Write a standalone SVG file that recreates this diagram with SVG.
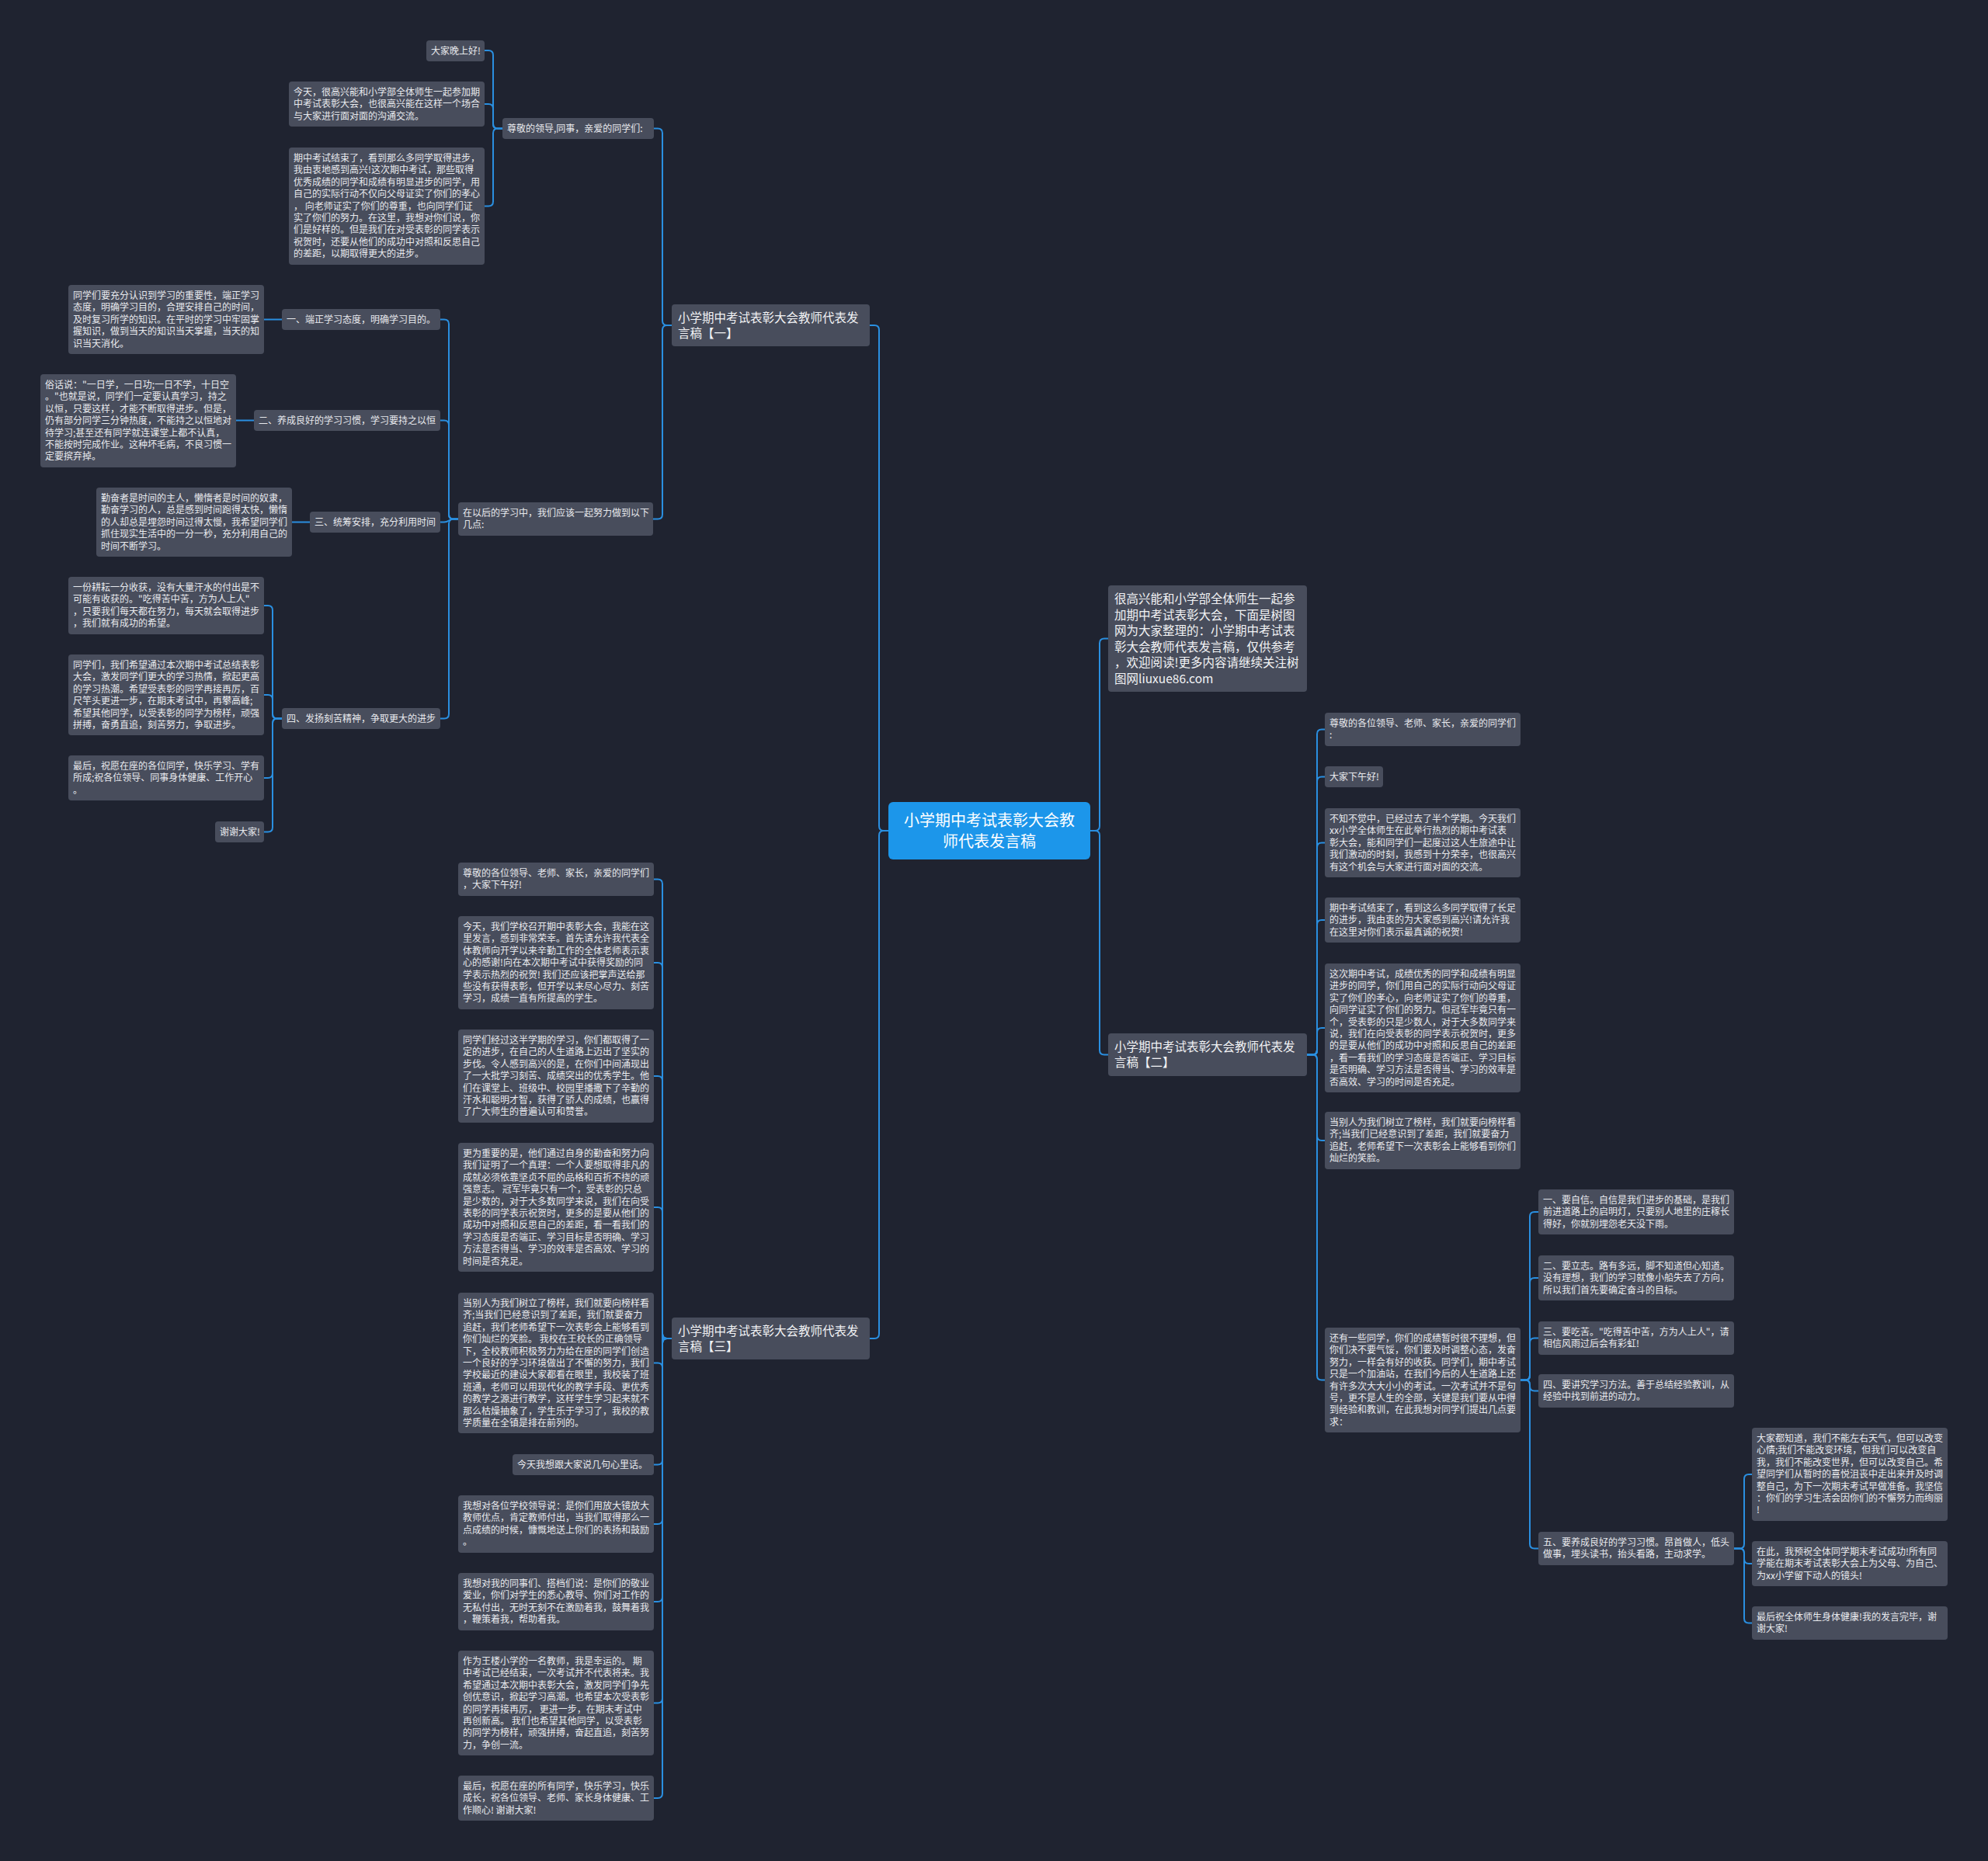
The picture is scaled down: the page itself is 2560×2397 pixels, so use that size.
<svg xmlns="http://www.w3.org/2000/svg" width="2560" height="2397" viewBox="0 0 2560 2397">
<style>
.bg{fill:#1f2330}
.b{fill:#484d5c;rx:4px;ry:4px}
.cb{fill:#1c96ea;rx:6px;ry:6px}
text{font-family:"Noto Sans CJK SC","Noto Sans",sans-serif}
.s{font-size:12px;fill:#e8eaee}
.m{font-size:15.5px;fill:#f2f3f5}
.c{font-size:20px;fill:#ffffff;text-anchor:middle}
#connectors path{fill:none;stroke:#2a8fe0;stroke-width:2}
</style>
<rect class="bg" x="0" y="0" width="2560" height="2397"/>
<g id="connectors">
<path d="M1144,1070 H1138 Q1132,1070 1132,1064 V425 Q1132,419 1126,419 H1120"/>
<path d="M1144,1070 H1138 Q1132,1070 1132,1076 V1718 Q1132,1724 1126,1724 H1120"/>
<path d="M1404,1070 H1410 Q1416,1070 1416,1064 V828.5 Q1416,822.5 1422,822.5 H1427"/>
<path d="M1404,1070 H1410 Q1416,1070 1416,1076 V1352.5 Q1416,1358.5 1422,1358.5 H1427"/>
<path d="M865,419 H859 Q853,419 853,413 V171.5 Q853,165.5 847,165.5 H842"/>
<path d="M865,419 H859 Q853,419 853,425 V662.5 Q853,668.5 847,668.5 H841"/>
<path d="M647,165.5 H641 Q635,165.5 635,159.5 V71 Q635,65 629,65 H624"/>
<path d="M647,165.5 H641 Q635,165.5 635,159.5 V140 Q635,134 629,134 H624"/>
<path d="M647,165.5 H641 Q635,165.5 635,171.5 V259.5 Q635,265.5 629,265.5 H624"/>
<path d="M590,668.5 H584 Q578,668.5 578,662.5 V417.5 Q578,411.5 572,411.5 H567"/>
<path d="M590,668.5 H584 Q578,668.5 578,662.5 V547.5 Q578,541.5 572,541.5 H567"/>
<path d="M590,668.5 H584 C578,668.5 578,672.5 572,672.5 H567"/>
<path d="M590,668.5 H584 Q578,668.5 578,674.5 V919.5 Q578,925.5 572,925.5 H567"/>
<path d="M363,411.5 H340"/>
<path d="M327,541.5 H304"/>
<path d="M399,672.5 H376"/>
<path d="M363,925.5 H357 Q351,925.5 351,919.5 V786 Q351,780 345,780 H340"/>
<path d="M363,925.5 H357 Q351,925.5 351,919.5 V901 Q351,895 345,895 H340"/>
<path d="M363,925.5 H357 Q351,925.5 351,931.5 V996 Q351,1002 345,1002 H340"/>
<path d="M363,925.5 H357 Q351,925.5 351,931.5 V1065.5 Q351,1071.5 345,1071.5 H340"/>
<path d="M865,1724 H859 Q853,1724 853,1718 V1138.5 Q853,1132.5 847,1132.5 H842"/>
<path d="M865,1724 H859 Q853,1724 853,1718 V1246 Q853,1240 847,1240 H842"/>
<path d="M865,1724 H859 Q853,1724 853,1718 V1392 Q853,1386 847,1386 H842"/>
<path d="M865,1724 H859 Q853,1724 853,1718 V1561 Q853,1555 847,1555 H842"/>
<path d="M865,1724 H859 Q853,1724 853,1718 V1761.5 Q853,1755.5 847,1755.5 H842"/>
<path d="M865,1724 H859 Q853,1724 853,1730 V1880.5 Q853,1886.5 847,1886.5 H842"/>
<path d="M865,1724 H859 Q853,1724 853,1730 V1957 Q853,1963 847,1963 H842"/>
<path d="M865,1724 H859 Q853,1724 853,1730 V2057 Q853,2063 847,2063 H842"/>
<path d="M865,1724 H859 Q853,1724 853,1730 V2187.5 Q853,2193.5 847,2193.5 H842"/>
<path d="M865,1724 H859 Q853,1724 853,1730 V2310 Q853,2316 847,2316 H842"/>
<path d="M1683,1358.5 H1690 Q1696,1358.5 1696,1352.5 V945.5 Q1696,939.5 1702,939.5 H1706"/>
<path d="M1683,1358.5 H1690 Q1696,1358.5 1696,1352.5 V1006.5 Q1696,1000.5 1702,1000.5 H1706"/>
<path d="M1683,1358.5 H1690 Q1696,1358.5 1696,1352.5 V1091.5 Q1696,1085.5 1702,1085.5 H1706"/>
<path d="M1683,1358.5 H1690 Q1696,1358.5 1696,1352.5 V1191 Q1696,1185 1702,1185 H1706"/>
<path d="M1683,1358.5 H1690 Q1696,1358.5 1696,1352.5 V1330 Q1696,1324 1702,1324 H1706"/>
<path d="M1683,1358.5 H1690 Q1696,1358.5 1696,1364.5 V1463 Q1696,1469 1702,1469 H1706"/>
<path d="M1683,1358.5 H1690 Q1696,1358.5 1696,1364.5 V1771.5 Q1696,1777.5 1702,1777.5 H1706"/>
<path d="M1958,1777.5 H1964 Q1970,1777.5 1970,1771.5 V1567 Q1970,1561 1976,1561 H1981"/>
<path d="M1958,1777.5 H1964 Q1970,1777.5 1970,1771.5 V1652 Q1970,1646 1976,1646 H1981"/>
<path d="M1958,1777.5 H1964 Q1970,1777.5 1970,1771.5 V1729.5 Q1970,1723.5 1976,1723.5 H1981"/>
<path d="M1958,1777.5 H1964 Q1970,1777.5 1970,1783.5 V1785.5 Q1970,1791.5 1976,1791.5 H1981"/>
<path d="M1958,1777.5 H1964 Q1970,1777.5 1970,1783.5 V1988.5 Q1970,1994.5 1976,1994.5 H1981"/>
<path d="M2233,1994.5 H2240 Q2246,1994.5 2246,1988.5 V1905 Q2246,1899 2252,1899 H2256"/>
<path d="M2233,1994.5 H2240 Q2246,1994.5 2246,2000.5 V2008 Q2246,2014 2252,2014 H2256"/>
<path d="M2233,1994.5 H2240 Q2246,1994.5 2246,2000.5 V2084.5 Q2246,2090.5 2252,2090.5 H2256"/>
</g>

<g id="center">
<rect class="cb" x="1144" y="1033" width="260" height="74"/>
<text class="c" x="1274" y="1063.5"><tspan x="1274">小学期中考试表彰大会教</tspan><tspan x="1274" dy="27">师代表发言稿</tspan></text>
</g>

<g id="branch1">
<rect class="b" x="865" y="392" width="255" height="54"/>
<text class="m" x="873" y="414.5"><tspan x="873">小学期中考试表彰大会教师代表发</tspan><tspan x="873" dy="20.5">言稿【一】</tspan></text>
</g>
<g id="branch3">
<rect class="b" x="865" y="1697" width="255" height="54"/>
<text class="m" x="873" y="1719.5"><tspan x="873">小学期中考试表彰大会教师代表发</tspan><tspan x="873" dy="20.5">言稿【三】</tspan></text>
</g>
<g id="intro">
<rect class="b" x="1427" y="754" width="256" height="137"/>
<text class="m" x="1435" y="777"><tspan x="1435">很高兴能和小学部全体师生一起参</tspan><tspan x="1435" dy="20.5">加期中考试表彰大会，下面是树图</tspan><tspan x="1435" dy="20.5">网为大家整理的：小学期中考试表</tspan><tspan x="1435" dy="20.5">彰大会教师代表发言稿，仅供参考</tspan><tspan x="1435" dy="20.5">，欢迎阅读!更多内容请继续关注树</tspan><tspan x="1435" dy="20.5">图网liuxue86.com</tspan></text>
</g>
<g id="branch2">
<rect class="b" x="1427" y="1331" width="256" height="55"/>
<text class="m" x="1435" y="1353.5"><tspan x="1435">小学期中考试表彰大会教师代表发</tspan><tspan x="1435" dy="20.5">言稿【二】</tspan></text>
</g>

<g id="n-respect">
<rect class="b" x="647" y="152" width="195" height="27"/>
<text class="s" x="653" y="170">尊敬的领导,同事，亲爱的同学们:</text>
</g>
<g id="n-hello">
<rect class="b" x="549" y="52" width="75" height="27"/>
<text class="s" x="555" y="70">大家晚上好!</text>
</g>
<g id="n-today">
<rect class="b" x="372" y="105" width="252" height="58"/>
<text class="s" x="378" y="123"><tspan x="378">今天，很高兴能和小学部全体师生一起参加期</tspan><tspan x="378" dy="15.4">中考试表彰大会，也很高兴能在这样一个场合</tspan><tspan x="378" dy="15.4">与大家进行面对面的沟通交流。</tspan></text>
</g>
<g id="n-midterm">
<rect class="b" x="372" y="190" width="252" height="151"/>
<text class="s" x="378" y="208"><tspan x="378">期中考试结束了，看到那么多同学取得进步，</tspan><tspan x="378" dy="15.4">我由衷地感到高兴!这次期中考试，那些取得</tspan><tspan x="378" dy="15.4">优秀成绩的同学和成绩有明显进步的同学，用</tspan><tspan x="378" dy="15.4">自己的实际行动不仅向父母证实了你们的孝心</tspan><tspan x="378" dy="15.4">， 向老师证实了你们的尊重，也向同学们证</tspan><tspan x="378" dy="15.4">实了你们的努力。在这里，我想对你们说，你</tspan><tspan x="378" dy="15.4">们是好样的。但是我们在对受表彰的同学表示</tspan><tspan x="378" dy="15.4">祝贺时，还要从他们的成功中对照和反思自己</tspan><tspan x="378" dy="15.4">的差距，以期取得更大的进步。</tspan></text>
</g>

<g id="n-later">
<rect class="b" x="590" y="647" width="251" height="43"/>
<text class="s" x="596" y="665"><tspan x="596">在以后的学习中，我们应该一起努力做到以下</tspan><tspan x="596" dy="15.4">几点:</tspan></text>
</g>
<g id="n-p1">
<rect class="b" x="363" y="398" width="204" height="27"/>
<text class="s" x="369" y="416">一、端正学习态度，明确学习目的。</text>
</g>
<g id="n-p1c">
<rect class="b" x="88" y="367" width="252" height="89"/>
<text class="s" x="94" y="385"><tspan x="94">同学们要充分认识到学习的重要性，端正学习</tspan><tspan x="94" dy="15.4">态度，明确学习目的，合理安排自己的时间，</tspan><tspan x="94" dy="15.4">及时复习所学的知识。在平时的学习中牢固掌</tspan><tspan x="94" dy="15.4">握知识，做到当天的知识当天掌握，当天的知</tspan><tspan x="94" dy="15.4">识当天消化。</tspan></text>
</g>
<g id="n-p2">
<rect class="b" x="327" y="528" width="240" height="27"/>
<text class="s" x="333" y="546">二、养成良好的学习习惯，学习要持之以恒</text>
</g>
<g id="n-p2c">
<rect class="b" x="52" y="482" width="252" height="120"/>
<text class="s" x="58" y="500"><tspan x="58">俗话说："一日学，一日功;一日不学，十日空</tspan><tspan x="58" dy="15.4">。"也就是说，同学们一定要认真学习，持之</tspan><tspan x="58" dy="15.4">以恒，只要这样，才能不断取得进步。但是，</tspan><tspan x="58" dy="15.4">仍有部分同学三分钟热度，不能持之以恒地对</tspan><tspan x="58" dy="15.4">待学习;甚至还有同学就连课堂上都不认真，</tspan><tspan x="58" dy="15.4">不能按时完成作业。这种坏毛病，不良习惯一</tspan><tspan x="58" dy="15.4">定要摈弃掉。</tspan></text>
</g>
<g id="n-p3">
<rect class="b" x="399" y="659" width="168" height="27"/>
<text class="s" x="405" y="677">三、统筹安排，充分利用时间</text>
</g>
<g id="n-p3c">
<rect class="b" x="124" y="628" width="252" height="89"/>
<text class="s" x="130" y="646"><tspan x="130">勤奋者是时间的主人，懒惰者是时间的奴隶，</tspan><tspan x="130" dy="15.4">勤奋学习的人，总是感到时间跑得太快，懒惰</tspan><tspan x="130" dy="15.4">的人却总是埋怨时间过得太慢，我希望同学们</tspan><tspan x="130" dy="15.4">抓住现实生活中的一分一秒，充分利用自己的</tspan><tspan x="130" dy="15.4">时间不断学习。</tspan></text>
</g>
<g id="n-p4">
<rect class="b" x="363" y="912" width="204" height="27"/>
<text class="s" x="369" y="930">四、发扬刻苦精神，争取更大的进步</text>
</g>
<g id="n-p4a">
<rect class="b" x="88" y="743" width="252" height="74"/>
<text class="s" x="94" y="761"><tspan x="94">一份耕耘一分收获，没有大量汗水的付出是不</tspan><tspan x="94" dy="15.4">可能有收获的。"吃得苦中苦，方为人上人"</tspan><tspan x="94" dy="15.4">，只要我们每天都在努力，每天就会取得进步</tspan><tspan x="94" dy="15.4">，我们就有成功的希望。</tspan></text>
</g>
<g id="n-p4b">
<rect class="b" x="88" y="843" width="252" height="104"/>
<text class="s" x="94" y="861"><tspan x="94">同学们，我们希望通过本次期中考试总结表彰</tspan><tspan x="94" dy="15.4">大会，激发同学们更大的学习热情，掀起更高</tspan><tspan x="94" dy="15.4">的学习热潮。希望受表彰的同学再接再厉，百</tspan><tspan x="94" dy="15.4">尺竿头更进一步，在期末考试中，再攀高峰;</tspan><tspan x="94" dy="15.4">希望其他同学，以受表彰的同学为榜样，顽强</tspan><tspan x="94" dy="15.4">拼搏，奋勇直追，刻苦努力，争取进步。</tspan></text>
</g>
<g id="n-p4c">
<rect class="b" x="88" y="973" width="252" height="58"/>
<text class="s" x="94" y="991"><tspan x="94">最后，祝愿在座的各位同学，快乐学习、学有</tspan><tspan x="94" dy="15.4">所成;祝各位领导、同事身体健康、工作开心</tspan><tspan x="94" dy="15.4">。</tspan></text>
</g>
<g id="n-p4d">
<rect class="b" x="277" y="1058" width="63" height="27"/>
<text class="s" x="283" y="1076">谢谢大家!</text>
</g>

<g id="n-b1">
<rect class="b" x="590" y="1111" width="252" height="43"/>
<text class="s" x="596" y="1129"><tspan x="596">尊敬的各位领导、老师、家长，亲爱的同学们</tspan><tspan x="596" dy="15.4">，大家下午好!</tspan></text>
</g>
<g id="n-b2">
<rect class="b" x="590" y="1180" width="252" height="120"/>
<text class="s" x="596" y="1198"><tspan x="596">今天，我们学校召开期中表彰大会，我能在这</tspan><tspan x="596" dy="15.4">里发言，感到非常荣幸。首先请允许我代表全</tspan><tspan x="596" dy="15.4">体教师向开学以来辛勤工作的全体老师表示衷</tspan><tspan x="596" dy="15.4">心的感谢!向在本次期中考试中获得奖励的同</tspan><tspan x="596" dy="15.4">学表示热烈的祝贺! 我们还应该把掌声送给那</tspan><tspan x="596" dy="15.4">些没有获得表彰，但开学以来尽心尽力、刻苦</tspan><tspan x="596" dy="15.4">学习，成绩一直有所提高的学生。</tspan></text>
</g>
<g id="n-b3">
<rect class="b" x="590" y="1326" width="252" height="120"/>
<text class="s" x="596" y="1344"><tspan x="596">同学们经过这半学期的学习，你们都取得了一</tspan><tspan x="596" dy="15.4">定的进步，在自己的人生道路上迈出了坚实的</tspan><tspan x="596" dy="15.4">步伐。令人感到高兴的是，在你们中间涌现出</tspan><tspan x="596" dy="15.4">了一大批学习刻苦、成绩突出的优秀学生。他</tspan><tspan x="596" dy="15.4">们在课堂上、班级中、校园里播撒下了辛勤的</tspan><tspan x="596" dy="15.4">汗水和聪明才智，获得了骄人的成绩，也赢得</tspan><tspan x="596" dy="15.4">了广大师生的普遍认可和赞誉。</tspan></text>
</g>
<g id="n-b4">
<rect class="b" x="590" y="1472" width="252" height="166"/>
<text class="s" x="596" y="1490"><tspan x="596">更为重要的是，他们通过自身的勤奋和努力向</tspan><tspan x="596" dy="15.4">我们证明了一个真理：一个人要想取得非凡的</tspan><tspan x="596" dy="15.4">成就必须依靠坚贞不屈的品格和百折不挠的顽</tspan><tspan x="596" dy="15.4">强意志。 冠军毕竟只有一个，受表彰的只总</tspan><tspan x="596" dy="15.4">是少数的，对于大多数同学来说，我们在向受</tspan><tspan x="596" dy="15.4">表彰的同学表示祝贺时，更多的是要从他们的</tspan><tspan x="596" dy="15.4">成功中对照和反思自己的差距，看一看我们的</tspan><tspan x="596" dy="15.4">学习态度是否端正、学习目标是否明确、学习</tspan><tspan x="596" dy="15.4">方法是否得当、学习的效率是否高效、学习的</tspan><tspan x="596" dy="15.4">时间是否充足。</tspan></text>
</g>
<g id="n-b5">
<rect class="b" x="590" y="1665" width="252" height="181"/>
<text class="s" x="596" y="1683"><tspan x="596">当别人为我们树立了榜样，我们就要向榜样看</tspan><tspan x="596" dy="15.4">齐;当我们已经意识到了差距，我们就要奋力</tspan><tspan x="596" dy="15.4">追赶，我们老师希望下一次表彰会上能够看到</tspan><tspan x="596" dy="15.4">你们灿烂的笑脸。 我校在王校长的正确领导</tspan><tspan x="596" dy="15.4">下，全校教师积极努力为给在座的同学们创造</tspan><tspan x="596" dy="15.4">一个良好的学习环境做出了不懈的努力，我们</tspan><tspan x="596" dy="15.4">学校最近的建设大家都看在眼里，我校装了班</tspan><tspan x="596" dy="15.4">班通，老师可以用现代化的教学手段、更优秀</tspan><tspan x="596" dy="15.4">的教学之源进行教学，这样学生学习起来就不</tspan><tspan x="596" dy="15.4">那么枯燥抽象了，学生乐于学习了，我校的教</tspan><tspan x="596" dy="15.4">学质量在全镇是排在前列的。</tspan></text>
</g>
<g id="n-b6">
<rect class="b" x="660" y="1873" width="182" height="27"/>
<text class="s" x="666" y="1891">今天我想跟大家说几句心里话。</text>
</g>
<g id="n-b7">
<rect class="b" x="590" y="1926" width="252" height="74"/>
<text class="s" x="596" y="1944"><tspan x="596">我想对各位学校领导说：是你们用放大镜放大</tspan><tspan x="596" dy="15.4">教师优点，肯定教师付出，当我们取得那么一</tspan><tspan x="596" dy="15.4">点成绩的时候，慷慨地送上你们的表扬和鼓励</tspan><tspan x="596" dy="15.4">。</tspan></text>
</g>
<g id="n-b8">
<rect class="b" x="590" y="2026" width="252" height="74"/>
<text class="s" x="596" y="2044"><tspan x="596">我想对我的同事们、搭档们说：是你们的敬业</tspan><tspan x="596" dy="15.4">爱业，你们对学生的悉心教导、你们对工作的</tspan><tspan x="596" dy="15.4">无私付出，无时无刻不在激励着我，鼓舞着我</tspan><tspan x="596" dy="15.4">，鞭策着我，帮助着我。</tspan></text>
</g>
<g id="n-b9">
<rect class="b" x="590" y="2126" width="252" height="135"/>
<text class="s" x="596" y="2144"><tspan x="596">作为王楼小学的一名教师，我是幸运的。 期</tspan><tspan x="596" dy="15.4">中考试已经结束，一次考试并不代表将来。我</tspan><tspan x="596" dy="15.4">希望通过本次期中表彰大会，激发同学们争先</tspan><tspan x="596" dy="15.4">创优意识，掀起学习高潮。也希望本次受表彰</tspan><tspan x="596" dy="15.4">的同学再接再厉， 更进一步，在期末考试中</tspan><tspan x="596" dy="15.4">再创新高。 我们也希望其他同学，以受表彰</tspan><tspan x="596" dy="15.4">的同学为榜样，顽强拼搏，奋起直追，刻苦努</tspan><tspan x="596" dy="15.4">力，争创一流。</tspan></text>
</g>
<g id="n-b10">
<rect class="b" x="590" y="2287" width="252" height="58"/>
<text class="s" x="596" y="2305"><tspan x="596">最后，祝愿在座的所有同学，快乐学习，快乐</tspan><tspan x="596" dy="15.4">成长，祝各位领导、老师、家长身体健康、工</tspan><tspan x="596" dy="15.4">作顺心! 谢谢大家!</tspan></text>
</g>

<g id="n-r1">
<rect class="b" x="1706" y="918" width="252" height="43"/>
<text class="s" x="1712" y="936"><tspan x="1712">尊敬的各位领导、老师、家长，亲爱的同学们</tspan><tspan x="1712" dy="15.4">:</tspan></text>
</g>
<g id="n-r2">
<rect class="b" x="1706" y="987" width="75" height="27"/>
<text class="s" x="1712" y="1005">大家下午好!</text>
</g>
<g id="n-r3">
<rect class="b" x="1706" y="1041" width="252" height="89"/>
<text class="s" x="1712" y="1059"><tspan x="1712">不知不觉中，已经过去了半个学期。今天我们</tspan><tspan x="1712" dy="15.4">xx小学全体师生在此举行热烈的期中考试表</tspan><tspan x="1712" dy="15.4">彰大会，能和同学们一起度过这人生旅途中让</tspan><tspan x="1712" dy="15.4">我们激动的时刻，我感到十分荣幸，也很高兴</tspan><tspan x="1712" dy="15.4">有这个机会与大家进行面对面的交流。</tspan></text>
</g>
<g id="n-r4">
<rect class="b" x="1706" y="1156" width="252" height="58"/>
<text class="s" x="1712" y="1174"><tspan x="1712">期中考试结束了，看到这么多同学取得了长足</tspan><tspan x="1712" dy="15.4">的进步，我由衷的为大家感到高兴!请允许我</tspan><tspan x="1712" dy="15.4">在这里对你们表示最真诚的祝贺!</tspan></text>
</g>
<g id="n-r5">
<rect class="b" x="1706" y="1241" width="252" height="166"/>
<text class="s" x="1712" y="1259"><tspan x="1712">这次期中考试，成绩优秀的同学和成绩有明显</tspan><tspan x="1712" dy="15.4">进步的同学，你们用自己的实际行动向父母证</tspan><tspan x="1712" dy="15.4">实了你们的孝心，向老师证实了你们的尊重，</tspan><tspan x="1712" dy="15.4">向同学证实了你们的努力。但冠军毕竟只有一</tspan><tspan x="1712" dy="15.4">个，受表彰的只是少数人，对于大多数同学来</tspan><tspan x="1712" dy="15.4">说，我们在向受表彰的同学表示祝贺时，更多</tspan><tspan x="1712" dy="15.4">的是要从他们的成功中对照和反思自己的差距</tspan><tspan x="1712" dy="15.4">，看一看我们的学习态度是否端正、学习目标</tspan><tspan x="1712" dy="15.4">是否明确、学习方法是否得当、学习的效率是</tspan><tspan x="1712" dy="15.4">否高效、学习的时间是否充足。</tspan></text>
</g>
<g id="n-r6">
<rect class="b" x="1706" y="1432" width="252" height="74"/>
<text class="s" x="1712" y="1450"><tspan x="1712">当别人为我们树立了榜样，我们就要向榜样看</tspan><tspan x="1712" dy="15.4">齐;当我们已经意识到了差距，我们就要奋力</tspan><tspan x="1712" dy="15.4">追赶，老师希望下一次表彰会上能够看到你们</tspan><tspan x="1712" dy="15.4">灿烂的笑脸。</tspan></text>
</g>
<g id="n-r7">
<rect class="b" x="1706" y="1710" width="252" height="135"/>
<text class="s" x="1712" y="1728"><tspan x="1712">还有一些同学，你们的成绩暂时很不理想，但</tspan><tspan x="1712" dy="15.4">你们决不要气馁，你们要及时调整心态，发奋</tspan><tspan x="1712" dy="15.4">努力，一样会有好的收获。同学们，期中考试</tspan><tspan x="1712" dy="15.4">只是一个加油站，在我们今后的人生道路上还</tspan><tspan x="1712" dy="15.4">有许多次大大小小的考试。一次考试并不是句</tspan><tspan x="1712" dy="15.4">号，更不是人生的全部，关键是我们要从中得</tspan><tspan x="1712" dy="15.4">到经验和教训，在此我想对同学们提出几点要</tspan><tspan x="1712" dy="15.4">求：</tspan></text>
</g>
<g id="n-c1">
<rect class="b" x="1981" y="1532" width="252" height="58"/>
<text class="s" x="1987" y="1550"><tspan x="1987">一、要自信。自信是我们进步的基础，是我们</tspan><tspan x="1987" dy="15.4">前进道路上的启明灯，只要别人地里的庄稼长</tspan><tspan x="1987" dy="15.4">得好，你就别埋怨老天没下雨。</tspan></text>
</g>
<g id="n-c2">
<rect class="b" x="1981" y="1617" width="252" height="58"/>
<text class="s" x="1987" y="1635"><tspan x="1987">二、要立志。路有多远，脚不知道但心知道。</tspan><tspan x="1987" dy="15.4">没有理想，我们的学习就像小船失去了方向，</tspan><tspan x="1987" dy="15.4">所以我们首先要确定奋斗的目标。</tspan></text>
</g>
<g id="n-c3">
<rect class="b" x="1981" y="1702" width="252" height="43"/>
<text class="s" x="1987" y="1720"><tspan x="1987">三、要吃苦。"吃得苦中苦，方为人上人"，请</tspan><tspan x="1987" dy="15.4">相信风雨过后会有彩虹!</tspan></text>
</g>
<g id="n-c4">
<rect class="b" x="1981" y="1770" width="252" height="43"/>
<text class="s" x="1987" y="1788"><tspan x="1987">四、要讲究学习方法。善于总结经验教训，从</tspan><tspan x="1987" dy="15.4">经验中找到前进的动力。</tspan></text>
</g>
<g id="n-c5">
<rect class="b" x="1981" y="1973" width="252" height="43"/>
<text class="s" x="1987" y="1991"><tspan x="1987">五、要养成良好的学习习惯。昂首做人，低头</tspan><tspan x="1987" dy="15.4">做事，埋头读书，抬头看路，主动求学。</tspan></text>
</g>
<g id="n-d1">
<rect class="b" x="2256" y="1839" width="252" height="120"/>
<text class="s" x="2262" y="1857"><tspan x="2262">大家都知道，我们不能左右天气，但可以改变</tspan><tspan x="2262" dy="15.4">心情;我们不能改变环境，但我们可以改变自</tspan><tspan x="2262" dy="15.4">我，我们不能改变世界，但可以改变自己。希</tspan><tspan x="2262" dy="15.4">望同学们从暂时的喜悦沮丧中走出来并及时调</tspan><tspan x="2262" dy="15.4">整自己，为下一次期末考试早做准备。我坚信</tspan><tspan x="2262" dy="15.4">：你们的学习生活会因你们的不懈努力而绚丽</tspan><tspan x="2262" dy="15.4">!</tspan></text>
</g>
<g id="n-d2">
<rect class="b" x="2256" y="1985" width="252" height="58"/>
<text class="s" x="2262" y="2003"><tspan x="2262">在此，我预祝全体同学期末考试成功!所有同</tspan><tspan x="2262" dy="15.4">学能在期末考试表彰大会上为父母、为自己、</tspan><tspan x="2262" dy="15.4">为xx小学留下动人的镜头!</tspan></text>
</g>
<g id="n-d3">
<rect class="b" x="2256" y="2069" width="252" height="43"/>
<text class="s" x="2262" y="2087"><tspan x="2262">最后祝全体师生身体健康!我的发言完毕，谢</tspan><tspan x="2262" dy="15.4">谢大家!</tspan></text>
</g>
</svg>
